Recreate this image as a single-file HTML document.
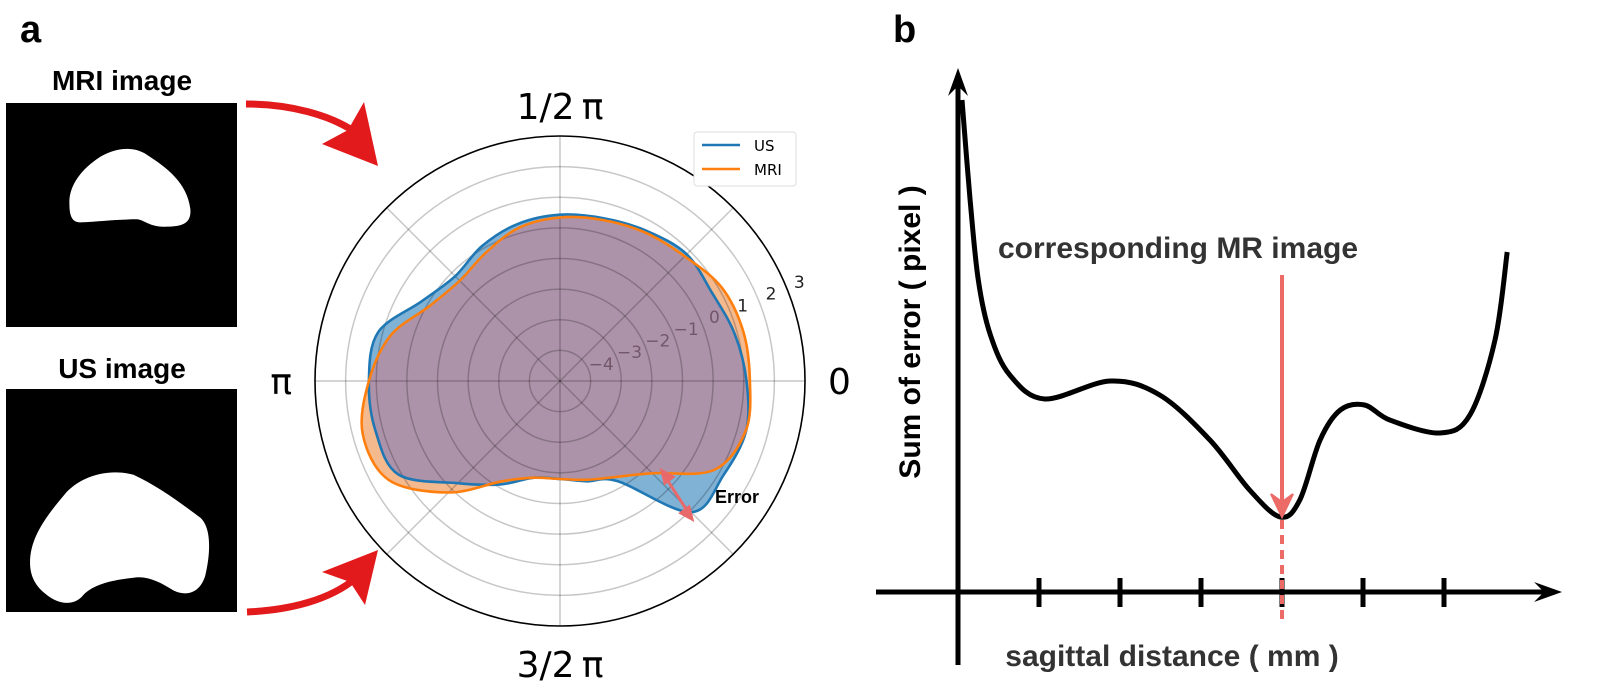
<!DOCTYPE html>
<html><head><meta charset="utf-8">
<style>
html,body{margin:0;padding:0;background:#fff;}
svg{display:block;}
</style></head>
<body>
<svg id="fig" width="1599" height="697" viewBox="0 0 1599 697" xmlns="http://www.w3.org/2000/svg" font-family="'Liberation Sans', sans-serif">
  <text x="20" y="42" font-size="38" font-weight="bold">a</text>
  <text x="893" y="42" font-size="38" font-weight="bold">b</text>

  <text x="122" y="90" font-size="28" font-weight="bold" text-anchor="middle">MRI image</text>
  <svg x="6" y="103" width="231" height="224" viewBox="18 235 692 520" preserveAspectRatio="none">
    <rect x="18" y="235" width="692" height="520" fill="#000"/>
    <path d="M208,470 C205,430 240,390 300,360 C350,338 400,335 440,355 C500,385 560,420 570,480 C575,515 545,522 500,522 C450,525 430,505 410,505 C350,505 300,510 240,512 C215,512 208,495 208,470 Z" fill="#fff"/>
  </svg>

  <text x="122" y="378" font-size="28" font-weight="bold" text-anchor="middle">US image</text>
  <svg x="6" y="389" width="231" height="223" viewBox="18 895 692 520" preserveAspectRatio="none">
    <rect x="18" y="895" width="692" height="520" fill="#000"/>
    <path d="M90,1300 C90,1240 140,1190 200,1135 C250,1095 330,1080 400,1095 C470,1120 540,1160 600,1195 C635,1220 630,1280 615,1330 C600,1370 560,1380 520,1365 C480,1345 440,1330 400,1335 C340,1340 280,1350 250,1375 C225,1400 180,1400 140,1375 C105,1355 90,1330 90,1300 Z" fill="#fff"/>
  </svg>

  <g>
    <path d="M246,104 C290,104 330,115 355,132" fill="none" stroke="#e31a1c" stroke-width="7"/>
    <path d="M378,166 L322,144 L348,130 L364,102 Z" fill="#e31a1c"/>
  </g>
  <g>
    <path d="M247,612 C290,610 330,600 356,578" fill="none" stroke="#e31a1c" stroke-width="7"/>
    <path d="M378,550 L365,605 L350,582 L322,572 Z" fill="#e31a1c"/>
  </g>

  <g id="polar"></g>
  <g id="lineplot"></g>
</svg>

<script>
// ---------- Polar chart data ----------
const polarAngles = [0,15,30,45,60,75,90,105,120,135,150,165,180,195,210,225,240,255,270,285,300,315,330,345];
const usRadius  = [1.09,0.91,0.74,0.85,0.66,0.50,0.43,0.31,0.09,-0.16,0.21,1.15,1.24,1.24,1.10,-0.28,-1.10,-1.73,-1.80,-1.61,-1.22,1.06,1.16,1.29];
const mriRadius = [1.20,1.20,1.10,0.76,0.59,0.44,0.34,0.18,-0.16,-0.37,-0.09,0.73,1.24,1.67,1.46,0.15,-1.22,-1.73,-1.80,-1.66,-1.38,-0.74,0.81,1.28];
const radialTicks = [-4,-3,-2,-1,0,1,2,3];
const radialTickLabels = ["\u22124","\u22123","\u22122","\u22121","0","1","2","3"];
const angleLabels = ["0","1/2\u2009\u03c0","\u03c0","3/2\u2009\u03c0"];

// ---------- Error curve data ----------
const distX = [0.05,0.15,0.25,0.40,0.64,1.07,1.88,2.49,3.11,3.60,3.98,4.22,4.47,4.72,5.02,5.33,5.95,6.32,6.63,6.78];
const errY  = [4.92,3.92,3.12,2.57,2.17,1.93,2.11,1.97,1.52,1.02,0.75,0.92,1.52,1.82,1.87,1.72,1.59,1.77,2.52,3.40];
const xTicks = [1,2,3,4,5,6];
const bestIndexX = 4;

const NS = "http://www.w3.org/2000/svg";
function mk(tag, attrs, parent){ const e=document.createElementNS(NS,tag); for(const k in attrs) e.setAttribute(k,attrs[k]); if(parent) parent.appendChild(e); return e; }

const cx=560, cy=381, R=245, rMin=-5, rMax=3;
function rScale(v){ return (v-rMin)/(rMax-rMin)*R; }
function polarPt(deg,v){ const a=deg*Math.PI/180, r=rScale(v); return [cx+r*Math.cos(a), cy-r*Math.sin(a)]; }
function closedSpline(pts){
  const n=pts.length; let d="M"+pts[0][0].toFixed(1)+","+pts[0][1].toFixed(1);
  for(let i=0;i<n;i++){
    const p0=pts[(i-1+n)%n],p1=pts[i],p2=pts[(i+1)%n],p3=pts[(i+2)%n];
    const c1=[p1[0]+(p2[0]-p0[0])/6,p1[1]+(p2[1]-p0[1])/6];
    const c2=[p2[0]-(p3[0]-p1[0])/6,p2[1]-(p3[1]-p1[1])/6];
    d+=" C"+c1.map(v=>v.toFixed(1))+" "+c2.map(v=>v.toFixed(1))+" "+p2.map(v=>v.toFixed(1));
  }
  return d+" Z";
}
function openSpline(pts){
  const n=pts.length; let d="M"+pts[0][0].toFixed(1)+","+pts[0][1].toFixed(1);
  for(let i=0;i<n-1;i++){
    const p0=pts[Math.max(i-1,0)],p1=pts[i],p2=pts[i+1],p3=pts[Math.min(i+2,n-1)];
    const c1=[p1[0]+(p2[0]-p0[0])/6,p1[1]+(p2[1]-p0[1])/6];
    const c2=[p2[0]-(p3[0]-p1[0])/6,p2[1]-(p3[1]-p1[1])/6];
    d+=" C"+c1.map(v=>v.toFixed(1))+" "+c2.map(v=>v.toFixed(1))+" "+p2.map(v=>v.toFixed(1));
  }
  return d;
}

const polar=document.getElementById('polar');
const usPath=closedSpline(polarAngles.map((a,i)=>polarPt(a,usRadius[i])));
const mriPath=closedSpline(polarAngles.map((a,i)=>polarPt(a,mriRadius[i])));

const defs=mk('defs',{},polar);
const clip=mk('clipPath',{id:'usclip'},defs);
mk('path',{d:usPath},clip);

const usFill=mk('path',{d:usPath,fill:'#80b2d6'},polar);


const mriFill=mk('path',{d:mriPath,fill:'#f5b98e'},polar);


const ov=mk('path',{d:mriPath,fill:'#ad93a9','clip-path':'url(#usclip)'},polar);



radialTicks.slice(0,-1).forEach(t=>{
  const c=mk('circle',{cx,cy,r:rScale(t),fill:'none',stroke:'rgba(0,0,0,0.22)','stroke-width':1.5},polar);
  
  
});
for(let k=0;k<8;k++){
  const a=k*45*Math.PI/180;
  const l=mk('line',{x1:cx,y1:cy,x2:cx+R*Math.cos(a),y2:cy-R*Math.sin(a),stroke:'rgba(0,0,0,0.22)','stroke-width':1.5},polar);
  
  
}
const outer=mk('circle',{cx,cy,r:R,fill:'none',stroke:'#000','stroke-width':1.6},polar);



radialTicks.forEach((t,i)=>{
  const a=22.5*Math.PI/180, r=rScale(t)+14;
  const lab=mk('text',{x:cx+r*Math.cos(a),y:cy-r*Math.sin(a)+6,'font-size':17,'text-anchor':'middle','font-family':"'DejaVu Sans', sans-serif",fill:t<=0?'rgba(90,60,80,0.7)':'#222'},polar);
  lab.textContent=radialTickLabels[i];
  
  
});

const usLine=mk('path',{d:usPath,fill:'none',stroke:'#1f77b4','stroke-width':2.6},polar);


const mriLine=mk('path',{d:mriPath,fill:'none',stroke:'#ff7f0e','stroke-width':2.6},polar);



[[cx+268,cy+13,'start',0],[cx,cy-262,'middle',1],[cx-268,cy+13,'end',2],[cx,cy+296,'middle',3]].forEach(p=>{
  const t=mk('text',{x:p[0],y:p[1],'text-anchor':p[2],'font-size':36,'font-family':"'DejaVu Sans', sans-serif",fill:'#000'},polar);
  t.textContent=angleLabels[p[3]];
  
  
});

const lg=mk('g',{},polar);


mk('rect',{x:694,y:132,width:102,height:54,rx:3,fill:'#fff',stroke:'#ddd','stroke-width':1},lg);
mk('line',{x1:702,y1:145,x2:740,y2:145,stroke:'#1f77b4','stroke-width':2.5},lg);
mk('line',{x1:702,y1:169,x2:740,y2:169,stroke:'#ff7f0e','stroke-width':2.5},lg);
const l1=mk('text',{x:754,y:151,'font-size':15,'font-family':"'DejaVu Sans', sans-serif"},lg); l1.textContent='US';


const l2=mk('text',{x:754,y:175,'font-size':15,'font-family':"'DejaVu Sans', sans-serif"},lg); l2.textContent='MRI';



const eg=mk('g',{},polar);


mk('line',{x1:666,y1:478,x2:688,y2:512,stroke:'#e8696a','stroke-width':3},eg);
mk('path',{d:'M662,471 L673,477 L665,483 Z',fill:'#e8696a',stroke:'#e8696a','stroke-width':3},eg);
mk('path',{d:'M692,519 L681,513 L689,507 Z',fill:'#e8696a',stroke:'#e8696a','stroke-width':3},eg);
const et=mk('text',{x:715,y:503,'font-size':18,'font-weight':'bold'},eg); et.textContent='Error';

// ---------- Line plot ----------
const lp=document.getElementById('lineplot');
const x0=958, y0=592, xUnit=81, yUnit=100;
function xs(v){ return x0+v*xUnit; }
function ys(v){ return y0-v*yUnit; }

const yAxis=mk('g',{},lp);


mk('line',{x1:x0,y1:665,x2:x0,y2:80,stroke:'#000','stroke-width':5},yAxis);
mk('path',{d:`M${x0},68 L${x0-10},96 L${x0},86 L${x0+10},96 Z`,fill:'#000'},yAxis);
const xAxis=mk('g',{},lp);


mk('line',{x1:876,y1:y0,x2:1552,y2:y0,stroke:'#000','stroke-width':5},xAxis);
mk('path',{d:`M1562,${y0} L1534,${y0-10} L1544,${y0} L1534,${y0+10} Z`,fill:'#000'},xAxis);
xTicks.forEach(t=>{
  const tk=mk('line',{x1:xs(t),y1:y0-14,x2:xs(t),y2:y0+15,stroke:'#000','stroke-width':5},xAxis);
  
  
});

const curve=mk('path',{d:openSpline(distX.map((v,i)=>[xs(v),ys(errY[i])])),fill:'none',stroke:'#000','stroke-width':5,'stroke-linejoin':'round'},lp);



const rg=mk('g',{},lp);


const bx=xs(bestIndexX);
mk('line',{x1:bx,y1:275,x2:bx,y2:505,stroke:'#ec6b67','stroke-width':4},rg);
mk('path',{d:`M${bx},517 L${bx-11},494 L${bx},502 L${bx+11},494 Z`,fill:'#ec6b67',stroke:'#ec6b67','stroke-width':2},rg);
mk('line',{x1:bx,y1:520,x2:bx,y2:620,stroke:'#ec6b67','stroke-width':4,'stroke-dasharray':'9,6'},rg);

const t1=mk('text',{x:1178,y:258,'font-size':30,'font-weight':'bold',fill:'#333','text-anchor':'middle'},lp);
t1.textContent='corresponding MR image';


const t2=mk('text',{x:1172,y:666,'font-size':30,'font-weight':'bold',fill:'#333','text-anchor':'middle'},lp);
t2.textContent='sagittal distance ( mm )';


const t3=mk('text',{x:0,y:0,'font-size':30,'font-weight':'bold',fill:'#000','text-anchor':'middle',transform:'translate(920,332) rotate(-90)'},lp);
t3.textContent='Sum of error ( pixel )';


</script>
</body></html>
